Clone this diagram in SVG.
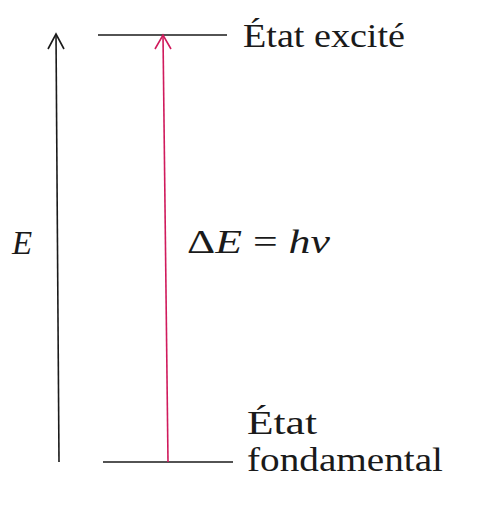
<svg xmlns="http://www.w3.org/2000/svg" width="504" height="508" viewBox="0 0 504 508">
<style>
.t{font-family:'Liberation Serif','Times New Roman',Times,serif;fill:#1a1a1a}
.i{font-style:italic}
.k{stroke:#1a1a1a;stroke-width:1.6;fill:none}
.p{stroke:#d01a5c;stroke-width:1.6;fill:none}
</style>
<rect width="504" height="508" fill="#ffffff"/>
<g id="excited">
<line class="k" x1="98" y1="35" x2="227" y2="35"/>
<text class="t" font-family="Liberation Serif" x="243" y="47" font-size="34" textLength="162" lengthAdjust="spacingAndGlyphs">État excité</text>
</g>
<g id="ground">
<line class="k" x1="103" y1="462" x2="233" y2="462"/>
<text class="t" font-family="Liberation Serif" x="247" y="434" font-size="34" textLength="70" lengthAdjust="spacingAndGlyphs">État</text>
<text class="t" font-family="Liberation Serif" x="247" y="471" font-size="34" textLength="196" lengthAdjust="spacingAndGlyphs">fondamental</text>
</g>
<g id="energy-axis">
<text class="t i" font-family="Liberation Serif" x="12" y="254" font-size="33">E</text>
</g>
<g id="transition-label">
<text class="t" font-family="Liberation Serif" x="187" y="253" font-size="33" textLength="143" lengthAdjust="spacingAndGlyphs">Δ<tspan class="i">E</tspan> = <tspan class="i">hν</tspan></text>
</g>
<g id="connectors">
<line class="k" x1="59" y1="462" x2="56" y2="34"/>
<polyline class="k" points="48,49 56,34 64,49"/>
<line class="p" x1="168" y1="462" x2="163" y2="35"/>
<polyline class="p" points="155,49 163,35 171,49"/>
</g>
</svg>
